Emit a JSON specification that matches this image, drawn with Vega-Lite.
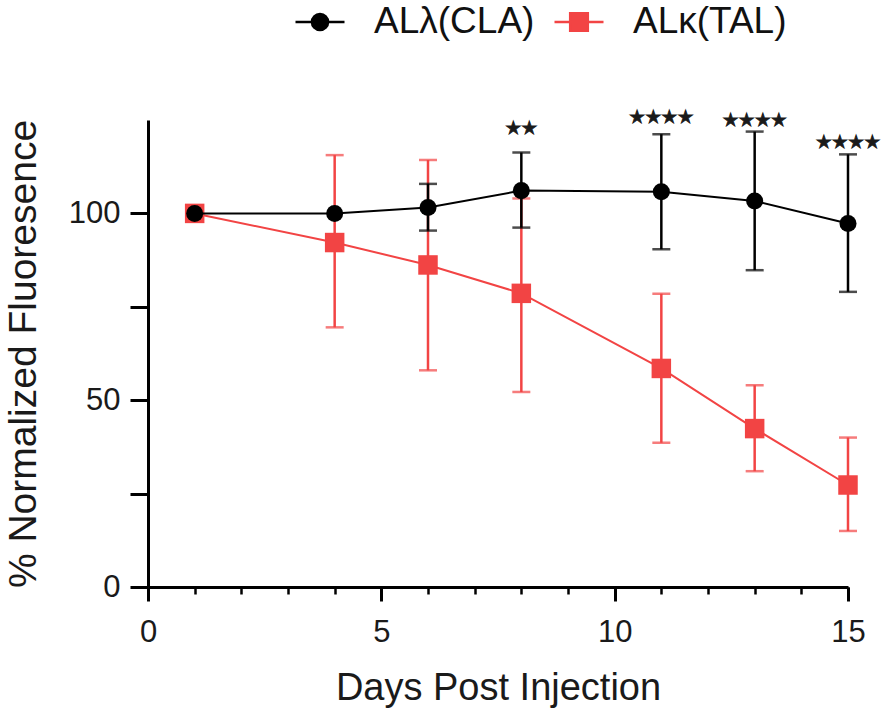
{
  "$schema": "https://vega.github.io/schema/vega-lite/v6.json",
  "width": 700,
  "height": 467,
  "autosize": {"type": "none"},
  "padding": {"left": 148, "top": 120, "right": 38, "bottom": 128},
  "background": "white",
  "config": {
    "view": {"stroke": null},
    "font": "Liberation Sans",
    "axis": {"grid": false, "domainColor": "black", "tickColor": "black", "labelFont": "Liberation Sans", "titleFont": "Liberation Sans", "labelColor": "#1a1a1a", "titleColor": "#1a1a1a", "titleFontWeight": "normal", "labelFlush": false}
  },
  "datasets": {
    "pts": [
      {"s": "ALκ(TAL)", "day": 1, "mean": 100, "lo": null, "hi": null},
      {"s": "ALκ(TAL)", "day": 4, "mean": 92.2, "lo": 69.5, "hi": 115.6},
      {"s": "ALκ(TAL)", "day": 6, "mean": 86.2, "lo": 58, "hi": 114.3},
      {"s": "ALκ(TAL)", "day": 8, "mean": 78.6, "lo": 52.2, "hi": 104},
      {"s": "ALκ(TAL)", "day": 11, "mean": 58.5, "lo": 38.6, "hi": 78.5},
      {"s": "ALκ(TAL)", "day": 13, "mean": 42.4, "lo": 31, "hi": 54},
      {"s": "ALκ(TAL)", "day": 15, "mean": 27.3, "lo": 15, "hi": 40},
      {"s": "ALλ(CLA)", "day": 1, "mean": 100, "lo": null, "hi": null},
      {"s": "ALλ(CLA)", "day": 4, "mean": 100, "lo": null, "hi": null},
      {"s": "ALλ(CLA)", "day": 6, "mean": 101.6, "lo": 95.4, "hi": 107.9},
      {"s": "ALλ(CLA)", "day": 8, "mean": 106.1, "lo": 96.2, "hi": 116.3},
      {"s": "ALλ(CLA)", "day": 11, "mean": 105.8, "lo": 90.4, "hi": 121.2},
      {"s": "ALλ(CLA)", "day": 13, "mean": 103.3, "lo": 84.8, "hi": 121.9},
      {"s": "ALλ(CLA)", "day": 15, "mean": 97.3, "lo": 79, "hi": 115.8}
    ],
    "stars": [
      {"day": 8, "pos": 122.6, "label": "★★"},
      {"day": 11, "pos": 125.6, "label": "★★★★"},
      {"day": 13, "pos": 124.8, "label": "★★★★"},
      {"day": 15, "pos": 118.9, "label": "★★★★"}
    ]
  },
  "resolve": {"axis": {"x": "independent", "y": "independent"}},
  "layer": [
    {
      "data": {"name": "pts"},
      "transform": [{"filter": "datum.s == 'ALκ(TAL)'"}],
      "mark": {"type": "line", "color": "#f24444", "strokeWidth": 2},
      "encoding": {
        "x": {"field": "day", "type": "quantitative",
          "scale": {"domain": [0, 15], "nice": false, "zero": false},
          "axis": {"orient": "bottom", "values": [0, 5, 10, 15], "tickSize": 14, "tickWidth": 3, "domainWidth": 3, "labelFontSize": 31, "labelPadding": 16, "title": "Days Post Injection", "titleFontSize": 38, "titlePadding": 22}},
        "y": {"field": "mean", "type": "quantitative",
          "scale": {"domain": [0, 125], "nice": false},
          "axis": {"orient": "left", "values": [0, 25, 50, 75, 100], "labelExpr": "datum.value % 50 == 0 ? datum.label : ''", "tickSize": 18, "tickWidth": 3, "domainWidth": 3, "labelFontSize": 31, "labelPadding": 10, "title": "% Normalized Fluoresence", "titleFontSize": 39, "titlePadding": 25}}
      }
    },
    {
      "data": {"name": "pts"},
      "transform": [{"filter": "datum.s == 'ALκ(TAL)' && isValid(datum.lo)"}],
      "mark": {"type": "errorbar", "ticks": true, "size": 18, "thickness": 2.5, "color": "#f24444"},
      "encoding": {
        "x": {"field": "day", "type": "quantitative", "axis": null},
        "y": {"field": "lo", "type": "quantitative", "axis": null},
        "y2": {"field": "hi"}
      }
    },
    {
      "data": {"name": "pts"},
      "transform": [{"filter": "datum.s == 'ALκ(TAL)'"}],
      "mark": {"type": "point", "shape": "square", "filled": true, "opacity": 1, "size": 380, "color": "#f24444"},
      "encoding": {
        "x": {"field": "day", "type": "quantitative",
          "axis": {"orient": "bottom", "values": [0, 1, 2, 3, 4, 5, 6, 7, 8, 9, 10, 11, 12, 13, 14, 15], "tickSize": 7, "tickWidth": 2.5, "domain": false, "labels": false, "title": null}},
        "y": {"field": "mean", "type": "quantitative", "axis": null}
      }
    },
    {
      "data": {"name": "pts"},
      "transform": [{"filter": "datum.s == 'ALλ(CLA)'"}],
      "mark": {"type": "line", "color": "black", "strokeWidth": 2},
      "encoding": {
        "x": {"field": "day", "type": "quantitative", "axis": null},
        "y": {"field": "mean", "type": "quantitative", "axis": null}
      }
    },
    {
      "data": {"name": "pts"},
      "transform": [{"filter": "datum.s == 'ALλ(CLA)' && isValid(datum.lo)"}],
      "mark": {"type": "errorbar", "ticks": true, "size": 18, "thickness": 2.5, "color": "black"},
      "encoding": {
        "x": {"field": "day", "type": "quantitative", "axis": null},
        "y": {"field": "lo", "type": "quantitative", "axis": null},
        "y2": {"field": "hi"}
      }
    },
    {
      "data": {"name": "pts"},
      "transform": [{"filter": "datum.s == 'ALλ(CLA)'"}],
      "mark": {"type": "point", "shape": "circle", "filled": true, "opacity": 1, "size": 290, "color": "black"},
      "encoding": {
        "x": {"field": "day", "type": "quantitative", "axis": null},
        "y": {"field": "mean", "type": "quantitative", "axis": null}
      }
    },
    {
      "data": {"name": "stars"},
      "mark": {"type": "text", "font": "DejaVu Sans", "fontSize": 18, "baseline": "middle", "align": "center", "color": "#1a1a1a", "stroke": "#1a1a1a", "strokeWidth": 0.9},
      "encoding": {
        "x": {"field": "day", "type": "quantitative", "axis": null},
        "y": {"field": "pos", "type": "quantitative", "axis": null},
        "text": {"field": "label"}
      }
    },
    {
      "data": {"name": "pts"},
      "transform": [{"filter": "false"}],
      "mark": {"type": "point", "filled": true, "opacity": 1, "strokeWidth": 2.5},
      "encoding": {
        "fill": {"field": "s", "type": "nominal",
          "scale": {"domain": ["ALλ(CLA)", "ALκ(TAL)"], "range": ["black", "#f24444"]},
          "legend": {"orient": "none", "legendX": 146, "legendY": -124, "direction": "horizontal", "title": null, "symbolSize": 2401, "symbolStrokeWidth": 2.5, "labelFontSize": 37, "labelLimit": 400, "labelFont": "Liberation Sans", "labelColor": "#111", "labelOffset": 28, "columnPadding": 14,
            "encode": {"symbols": {"update": {"shape": {"scale": "shape", "field": "value"}, "stroke": {"scale": "stroke", "field": "value"}, "fill": {"scale": "fill", "field": "value"}, "strokeWidth": {"value": 2.5}}}}}},
        "stroke": {"field": "s", "type": "nominal",
          "scale": {"domain": ["ALλ(CLA)", "ALκ(TAL)"], "range": ["black", "#f24444"]},
          "legend": {"orient": "none", "legendX": 146, "legendY": -124, "direction": "horizontal", "title": null, "symbolSize": 2401, "symbolStrokeWidth": 2.5, "labelFontSize": 37, "labelLimit": 400, "labelFont": "Liberation Sans", "labelColor": "#111", "labelOffset": 28, "columnPadding": 14,
            "encode": {"symbols": {"update": {"shape": {"scale": "shape", "field": "value"}, "stroke": {"scale": "stroke", "field": "value"}, "fill": {"scale": "fill", "field": "value"}, "strokeWidth": {"value": 2.5}}}}}},
        "shape": {"field": "s", "type": "nominal",
          "scale": {"domain": ["ALλ(CLA)", "ALκ(TAL)"], "range": ["M-1,0H1M0.33,0A0.33,0.33,0,1,1,-0.33,0A0.33,0.33,0,1,1,0.33,0Z", "M-1,0H1M-0.36,-0.36H0.36V0.36H-0.36Z"]},
          "legend": {"orient": "none", "legendX": 146, "legendY": -124, "direction": "horizontal", "title": null, "symbolSize": 2401, "symbolStrokeWidth": 2.5, "labelFontSize": 37, "labelLimit": 400, "labelFont": "Liberation Sans", "labelColor": "#111", "labelOffset": 28, "columnPadding": 14,
            "encode": {"symbols": {"update": {"shape": {"scale": "shape", "field": "value"}, "stroke": {"scale": "stroke", "field": "value"}, "fill": {"scale": "fill", "field": "value"}, "strokeWidth": {"value": 2.5}}}}}}
      }
    }
  ]
}
